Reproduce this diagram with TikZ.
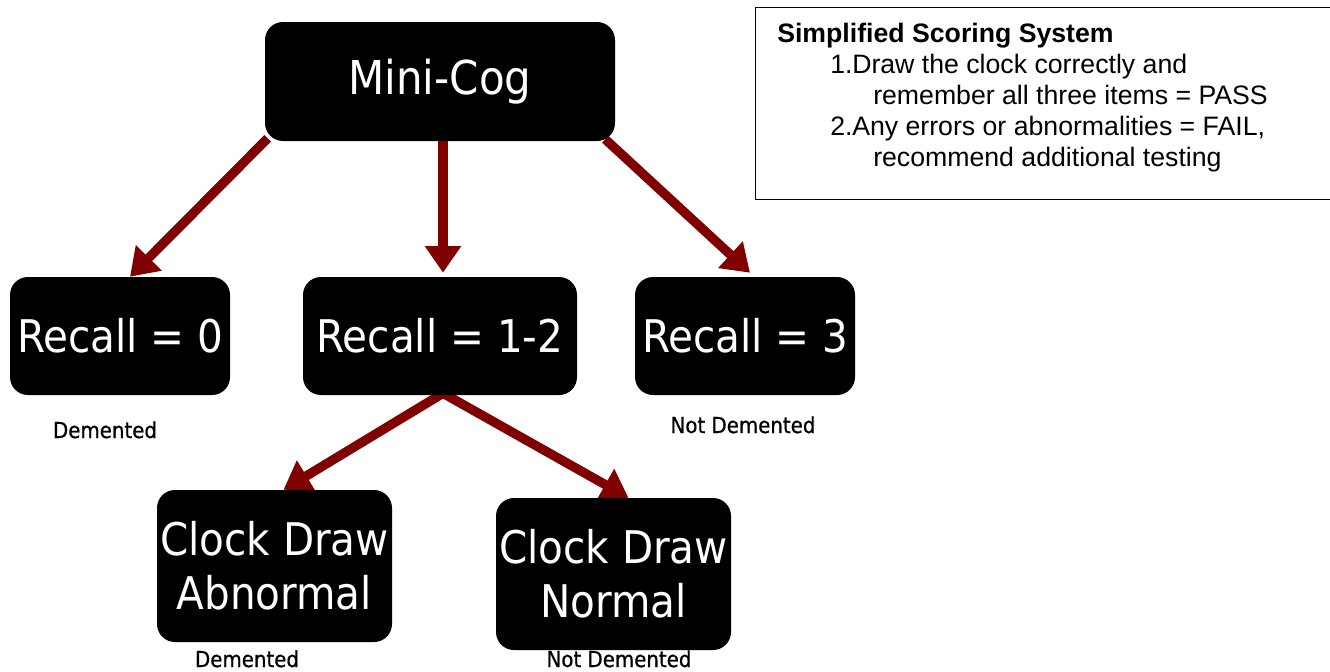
\documentclass[tikz,border=0pt]{standalone}
\usepackage{fontspec}
\setmainfont{Liberation Sans}
\newfontfamily\cogfont{DejaVu Sans Condensed}
\newfontfamily\outfont[FakeBold=0.6]{DejaVu Sans Condensed}
\usepackage{tikz}
\usetikzlibrary{arrows.meta,calc,backgrounds}
\definecolor{arrowred}{RGB}{128,0,0}
\tikzset{
  cogbox/.style={fill=black,text=white,rounded corners=13.5pt,inner sep=0pt,align=center,
    font=\cogfont\fontsize{33.75}{40.5}\selectfont},
  outcome/.style={inner sep=0pt,anchor=base,font=\outfont\fontsize{16.5}{18}\selectfont},
  flow/.style={draw=arrowred,line width=7pt,-{Triangle[length=20pt,width=26pt]}},
  scoretext/.style={inner sep=0pt,anchor=base west,font=\fontsize{20}{24}\selectfont},
}

\begin{document}
\begin{tikzpicture}[x=0.75pt,y=-0.75pt]
\clip (0,0) rectangle (1330,671);
\node[cogbox,minimum width=262.5pt,minimum height=89.25pt,font=\cogfont\fontsize{35}{40}\selectfont](minicog) at (440,81.5){Mini-Cog};
\node[cogbox,minimum width=165pt,minimum height=88.5pt](rec0) at (120,336){Recall = 0};
\node[cogbox,minimum width=205.5pt,minimum height=88.5pt](rec12) at (440,336){Recall = 1-2};
\node[cogbox,minimum width=165pt,minimum height=88.5pt](rec3) at (745,336){Recall = 3};
\node[cogbox,minimum width=176.25pt,minimum height=114pt](abn) at (274.5,566){Clock Draw\\Abnormal};
\node[cogbox,minimum width=176.25pt,minimum height=114pt](norm) at (613.5,574){Clock Draw\\Normal};

\node[outcome](dem0) at (105,438){Demented};
\node[outcome](nodem3) at (743,433){Not Demented};
\node[outcome](dem1) at (247,667){Demented};
\node[outcome](nodem2) at (619,667){Not Demented};

\node[draw,line width=1.1pt,anchor=north west,minimum width=442.5pt,minimum height=144pt](scorebox) at (755,7){};
\node[scoretext,font=\bfseries\fontsize{20}{24}\selectfont](title) at (777,42){Simplified Scoring System};
\node[scoretext](num1) at (830,73){1.};
\node[scoretext](item1) at (852,73){Draw the clock correctly and};
\node[scoretext](item1b) at (873,104){remember all three items = PASS};
\node[scoretext](num2) at (830,135){2.};
\node[scoretext](item2) at (852,135){Any errors or abnormalities = FAIL,};
\node[scoretext](item2b) at (873,166){recommend additional testing};

\begin{scope}[on background layer]
\fill[white](0,0) rectangle (1330,671);
\draw[flow]($(minicog.south west)+(3,-3)$)--($(rec0.north)+(10,0)$);
\draw[flow]($(minicog.south)+(3,-3)$)--($(rec12.north)+(3,-4)$);
\draw[flow]($(minicog.south east)+(-10,-2)$)--($(rec3.north)+(5,-4)$);
\draw[flow]($(rec12.south)+(3,-2)$)--($(abn.north)+(9,0)$);
\draw[flow]($(rec12.south)+(3,-2)$)--($(norm.north)+(15,0)$);
\end{scope}
\end{tikzpicture}
\end{document}
